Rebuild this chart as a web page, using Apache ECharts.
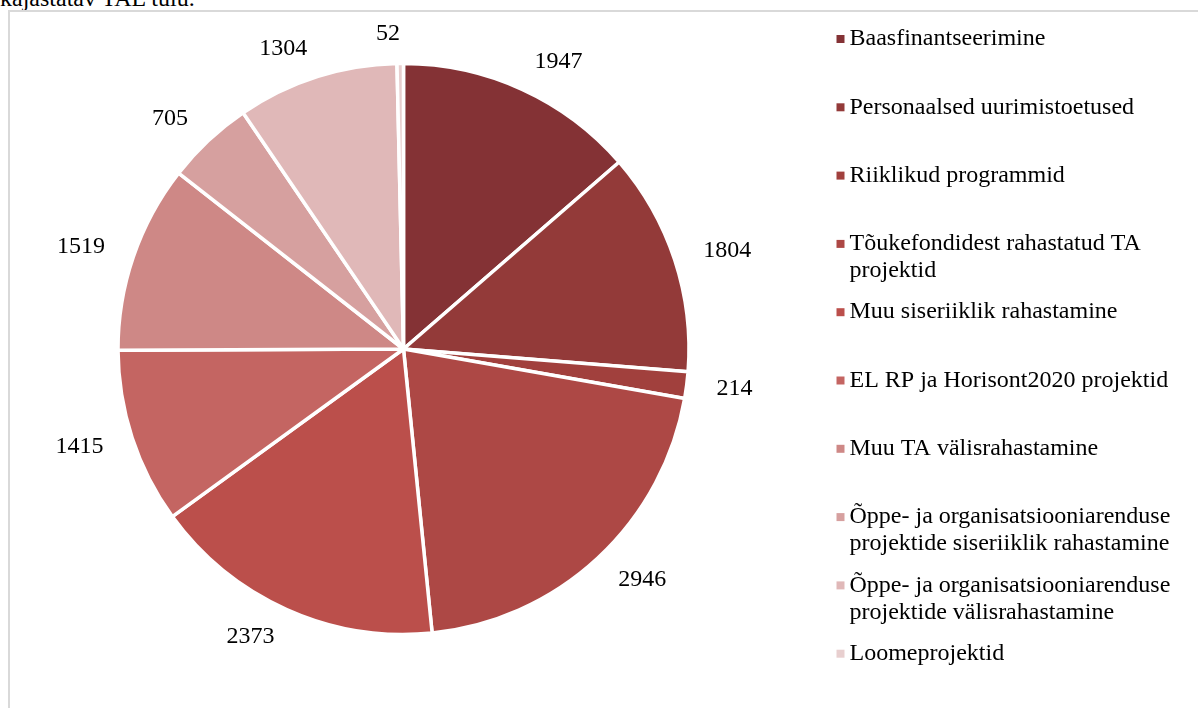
<!DOCTYPE html>
<html>
<head>
<meta charset="utf-8">
<script src="https://cdn.jsdelivr.net/npm/echarts@6/dist/echarts.min.js"></script>
<style>
  html, body { margin: 0; padding: 0; background: #fff; overflow: hidden; }
  #caption { position: absolute; left: 0; top: -14px; font-family: "Liberation Serif", "Times New Roman", serif; font-size: 24px; line-height: 24px; color: #000; white-space: nowrap; }
  #frame { position: absolute; left: 8px; top: 10px; width: 1400px; height: 900px; border: 2px solid #d9d9d9; box-sizing: border-box; }
  #chart { position: absolute; left: 0; top: 0; width: 1198px; height: 708px; }
</style>
</head>
<body>
<div id="caption">kajastatav TAL tulu.</div>
<div id="frame"></div>
<div id="chart"></div>
<script>
const categories = [
  "Baasfinantseerimine",
  "Personaalsed uurimistoetused",
  "Riiklikud programmid",
  "Tõukefondidest rahastatud TA projektid",
  "Muu siseriiklik rahastamine",
  "EL RP ja Horisont2020 projektid",
  "Muu TA välisrahastamine",
  "Õppe- ja organisatsiooniarenduse projektide siseriiklik rahastamine",
  "Õppe- ja organisatsiooniarenduse projektide välisrahastamine",
  "Loomeprojektid"
];
const values = [1947, 1804, 214, 2946, 2373, 1415, 1519, 705, 1304, 52];
const colors = ["#843235", "#933a39", "#a1403d", "#ad4845", "#bb4f4b", "#c46562", "#ce8886", "#d6a09f", "#e0b8b8", "#e8cfcf"];

const FONT = '"Liberation Serif", "Times New Roman", serif';
const chart = echarts.init(document.getElementById('chart'), null, { renderer: 'canvas' });

const legends = categories.map((name, i) => ({
  data: [name],
  orient: 'vertical',
  left: 836.5,
  top: -1.5 + 68.3 * i,
  padding: 0,
  itemWidth: 8,
  itemHeight: 8,
  itemGap: 0,
  icon: 'rect',
  selectedMode: false,
  itemStyle: { borderWidth: 0 },
  textStyle: {
    fontFamily: FONT,
    fontSize: 24,
    lineHeight: 27,
    color: '#000',
    width: 345,
    overflow: 'break',
    height: 54,
    padding: [27, 0, 0, 0],
    rich: { t: { fontFamily: FONT, fontSize: 24, lineHeight: 27 } }
  }
}));

chart.setOption({
  animation: false,
  backgroundColor: 'transparent',
  color: colors,
  legend: legends,
  series: [{
    type: 'pie',
    center: [403.5, 349],
    radius: 285.5,
    startAngle: 90,
    clockwise: true,
    avoidLabelOverlap: false,
    itemStyle: { borderColor: '#fff', borderWidth: 3.5 },
    label: {
      show: true,
      position: 'outside',
      formatter: '{c}',
      fontFamily: FONT,
      fontSize: 24,
      color: '#000',
      distanceToLabelLine: 0
    },
    labelLine: { show: false, length: 30, length2: 0 },
    emphasis: { disabled: true },
    data: categories.map((n, i) => ({ name: n, value: values[i] }))
  }]
});
</script>
</body>
</html>
